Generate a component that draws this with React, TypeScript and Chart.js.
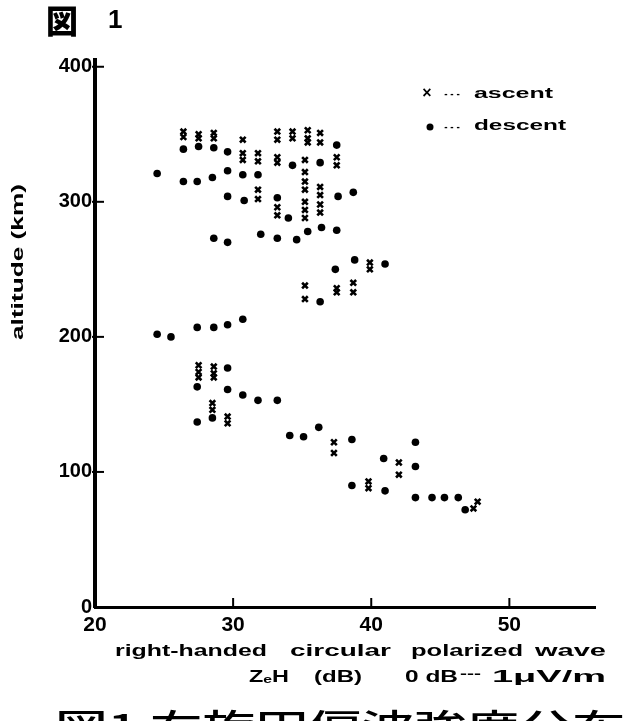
import React, { useEffect, useRef } from "react";
import { Chart, registerables } from "chart.js";
Chart.register(...registerables);

// ascent (x marks)
const ascentX = [
  26.4, 26.4, 27.5, 27.5, 28.6, 28.6, 30.7, 30.7, 30.7, 31.8, 31.8, 31.8, 31.8,
  33.2, 33.2, 34.3, 34.3, 35.4, 35.4, 35.4, 36.3, 36.3, 33.2, 33.2, 35.2, 35.2,
  37.5, 37.5, 35.2, 35.2, 36.3, 36.3, 33.2, 33.2, 35.2, 35.2, 35.2, 36.3, 36.3,
  39.9, 39.9, 38.7, 38.7, 37.5, 37.5, 35.2, 35.2, 27.5, 27.5, 27.5, 28.6, 28.6,
  28.6, 28.5, 28.5, 29.6, 29.6, 37.3, 37.3, 42.0, 42.0, 39.8, 39.8, 47.7, 47.4,
];
const ascentY = [
  352, 348, 350, 347, 351, 347, 346, 336, 331, 336, 330, 309, 302,
  352, 346, 352, 347, 353, 347, 344, 351, 344, 333, 329, 331, 322,
  333, 327, 315, 309, 311, 305, 296, 290, 300, 294, 288, 298, 292,
  255, 250, 240, 233, 236, 233, 238, 228, 179, 174, 170, 178, 173,
  170, 151, 146, 141, 136, 122, 114, 107, 98, 93, 88, 78, 73,
];
// descent (dots)
const descentX = [
  26.4, 27.5, 28.6, 29.6, 24.5, 26.4, 27.4, 28.5, 29.6, 30.7, 31.8, 29.6, 30.8,
  28.6, 29.6, 32.0, 37.5, 34.3, 36.3, 37.6, 38.7, 33.2, 34.0, 35.4, 36.4, 37.5,
  33.2, 34.6, 38.8, 41.0, 37.4, 36.3, 24.5, 25.5, 27.4, 28.6, 29.6, 30.7, 29.6,
  27.4, 29.6, 30.7, 31.8, 33.2, 27.4, 28.5, 34.1, 35.1, 36.2, 38.6, 43.2, 40.9,
  43.2, 38.6, 41.0, 43.2, 44.4, 45.3, 46.3, 46.8,
];
const descentY = [
  339, 341, 340, 337, 321, 315, 315, 318, 323, 320, 320, 304, 301,
  273, 270, 276, 342, 327, 329, 304, 307, 303, 288, 278, 281, 279,
  273, 272, 257, 254, 250, 226, 202, 200, 207, 207, 209, 213, 177,
  163, 161, 157, 153, 153, 137, 140, 127, 126, 133, 124, 122, 110,
  104, 90, 86, 81, 81, 81, 81, 72,
];
const xTicks = [20, 30, 40, 50];
const yTicks = [0, 100, 200, 300, 400];

const FONT = "'Liberation Sans', Arial, sans-serif";

function drawFit(ctx: CanvasRenderingContext2D, text: string, x0: number, x1: number, y: number, font: string) {
  ctx.font = font;
  const w = ctx.measureText(text).width;
  const s = (x1 - x0) / w;
  ctx.save();
  ctx.translate(x0, y);
  ctx.scale(s, 1);
  ctx.textAlign = "left";
  ctx.textBaseline = "middle";
  ctx.fillText(text, 0, 0);
  ctx.restore();
}

const deco = {
  id: "deco",
  afterDraw(chart: any) {
    const ctx: CanvasRenderingContext2D = chart.ctx;
    const xs = chart.scales.x;
    const ys = chart.scales.y;
    ctx.save();
    ctx.strokeStyle = "#000";
    ctx.fillStyle = "#000";
    ctx.lineWidth = 2;
    xTicks.slice(1).forEach((v) => {
      const px = xs.getPixelForValue(v);
      ctx.beginPath();
      ctx.moveTo(px, ys.bottom);
      ctx.lineTo(px, ys.bottom - 9);
      ctx.stroke();
    });
    yTicks.slice(1).forEach((v) => {
      const py = ys.getPixelForValue(v);
      ctx.beginPath();
      ctx.moveTo(xs.left - 3, py);
      ctx.lineTo(xs.left + 9, py);
      ctx.stroke();
    });
    // figure number
    ctx.font = "900 32px 'Noto Sans CJK JP', sans-serif";
    ctx.textBaseline = "middle";
    ctx.textAlign = "left";
    ctx.fillText("図", 46, 21);
    ctx.font = "bold 26px " + FONT;
    ctx.fillText("1", 108, 21);
    // y axis title
    ctx.save();
    ctx.translate(18, 262);
    ctx.rotate(-Math.PI / 2);
    drawFit(ctx, "altitude (km)", -78, 78, 0, "bold 17px " + FONT);
    ctx.restore();
    // x axis title
    const f1 = "bold 17px " + FONT;
    drawFit(ctx, "right-handed", 115, 267, 651, f1);
    drawFit(ctx, "circular", 290, 391, 651, f1);
    drawFit(ctx, "polarized", 411, 523, 651, f1);
    drawFit(ctx, "wave", 535, 606, 651, f1);
    drawFit(ctx, "Z\u2091H", 249, 289, 677, f1);
    drawFit(ctx, "(dB)", 314, 362, 677, f1);
    drawFit(ctx, "0 dB", 405, 458, 677, f1);
    drawFit(ctx, "---", 460, 481, 675, "bold 12px " + FONT);
    drawFit(ctx, "1\u03bcV/m", 492, 606, 677, f1);
    // legend
    const lf = "bold 15px " + FONT;
    ctx.font = "bold 16px " + FONT;
    ctx.textAlign = "center";
    ctx.fillText("\u00d7", 427, 94);
    ctx.beginPath();
    ctx.arc(430, 127, 3.5, 0, Math.PI * 2);
    ctx.fill();
    ctx.font = "bold 10px " + FONT;
    ctx.fillText("- - -", 452, 94);
    ctx.fillText("- - -", 452, 127);
    drawFit(ctx, "ascent", 474, 553, 94, lf);
    drawFit(ctx, "descent", 474, 566, 126, lf);
    // caption (cut off at bottom)
    drawFit(ctx, "図1 右旋円偏波強度分布", 55, 625, 726, "500 34px 'Noto Sans CJK JP', sans-serif");
    ctx.restore();
  },
};

export default function App() {
  const ref = useRef<HTMLCanvasElement>(null);
  useEffect(() => {
    const ascent = ascentX.map((x, i) => ({ x, y: ascentY[i] }));
    const descent = descentX.map((x, i) => ({ x, y: descentY[i] }));
    const chart = new Chart(ref.current!, {
      type: "scatter",
      data: {
        datasets: [
          {
            label: "ascent",
            data: ascent,
            pointStyle: "crossRot",
            radius: 4,
            borderWidth: 2.6,
            borderColor: "#000",
            backgroundColor: "#000",
          },
          {
            label: "descent",
            data: descent,
            pointStyle: "circle",
            radius: 3.8,
            borderWidth: 0,
            borderColor: "#000",
            backgroundColor: "#000",
          },
        ],
      },
      options: {
        responsive: false,
        animation: false,
        layout: { padding: { top: 60, right: 46, left: 0, bottom: 0 } },
        plugins: { legend: { display: false }, tooltip: { enabled: false } },
        scales: {
          x: {
            type: "linear",
            min: 20,
            max: 56.2,
            afterFit: (s: any) => {
              s.height = 114;
            },
            afterBuildTicks: (s: any) => {
              s.ticks = xTicks.map((v) => ({ value: v }));
            },
            grid: { display: false, drawTicks: false },
            border: { display: true, color: "#000", width: 3 },
            ticks: {
              color: "#000",
              padding: 6,
              font: { family: FONT, size: 21, weight: "bold" },
              maxRotation: 0,
            },
          },
          y: {
            type: "linear",
            min: 0,
            max: 405,
            afterFit: (s: any) => {
              s.width = 95;
            },
            afterBuildTicks: (s: any) => {
              s.ticks = yTicks.map((v) => ({ value: v }));
            },
            grid: { display: false, drawTicks: false },
            border: { display: true, color: "#000", width: 4 },
            ticks: {
              color: "#000",
              padding: 3,
              font: { family: FONT, size: 20, weight: "bold" },
            },
          },
        },
      },
      plugins: [deco],
    });
    return () => chart.destroy();
  }, []);
  return (
    <div style={{ position: "absolute", left: 0, top: 0, width: 641, height: 721, overflow: "hidden", background: "#fff" }}>
      <canvas ref={ref} width={641} height={721} />
    </div>
  );
}
